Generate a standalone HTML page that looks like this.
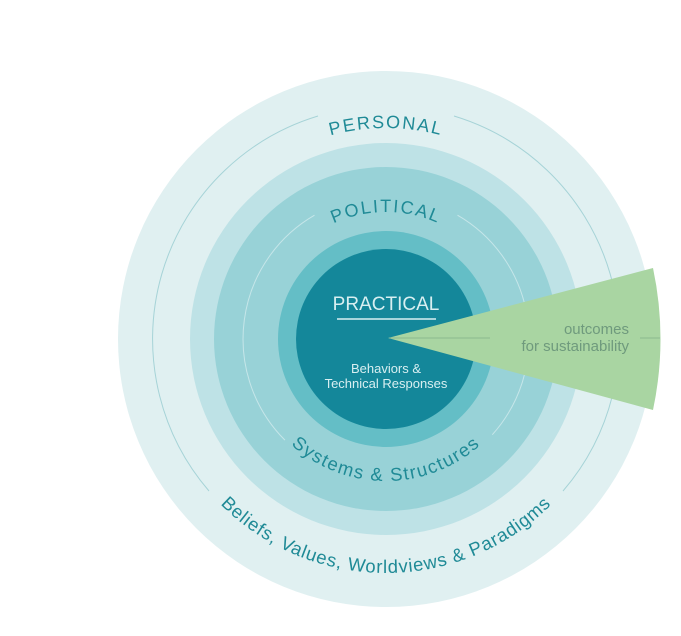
<!DOCTYPE html>
<html><head><meta charset="utf-8"><style>html,body{margin:0;padding:0;background:#fff}svg{display:block}</style></head><body>
<svg width="681" height="636" viewBox="0 0 681 636" xmlns="http://www.w3.org/2000/svg" font-family="Liberation Sans, sans-serif">
<defs>
<path id="pTop1" d="M175,339 A211,211 0 0 1 597,339"/>
<path id="pTop2" d="M259,339 A127,127 0 0 1 513,339"/>
<path id="pBot1" d="M244,339 A142,142 0 0 0 528,339"/>
<path id="pBot2" d="M152,339 A234,234 0 0 0 620,339"/>
</defs>
<circle cx="386" cy="339" r="268" fill="#e0f0f1"/>
<circle cx="386" cy="339" r="196" fill="#bee2e6"/>
<circle cx="386" cy="339" r="172" fill="#98d2d7"/>
<circle cx="386" cy="339" r="108" fill="#64bec6"/>
<circle cx="386" cy="339" r="90" fill="#14879a"/>
<g fill="none" stroke-width="1">
<path d="M318,116 A233,233 0 0 0 209,491" stroke="#a6d3d7"/>
<path d="M454,116 A233,233 0 0 1 563,491" stroke="#a6d3d7"/>
<path d="M314.5,215.2 A143,143 0 0 0 284.9,440.1" stroke="#c6e6e9"/>
<path d="M457.5,215.2 A143,143 0 0 1 492.3,434.7" stroke="#c6e6e9"/>
</g>
<path d="M388,338 L653,268 Q668,339 653,410 Z" fill="#a9d5a2"/>
<line x1="390" y1="338" x2="490" y2="338" stroke="#8cb98e" stroke-width="1"/>
<line x1="640" y1="338" x2="660" y2="338" stroke="#8cb98e" stroke-width="1"/>
<g fill="#1f8a96" font-size="18" letter-spacing="1.8">
<text><textPath href="#pTop1" startOffset="50%" text-anchor="middle">PERSONAL</textPath></text>
<text><textPath href="#pTop2" startOffset="50%" text-anchor="middle">POLITICAL</textPath></text>
<text font-size="18.5" letter-spacing="1.5"><textPath href="#pBot1" startOffset="50%" text-anchor="middle">Systems &amp; Structures</textPath></text>
<text font-size="18.5" letter-spacing="0.8"><textPath href="#pBot2" startOffset="50%" text-anchor="middle">Beliefs, Values, Worldviews &amp; Paradigms</textPath></text>
</g>
<text x="386" y="310" text-anchor="middle" fill="#d8eff1" font-size="19">PRACTICAL</text>
<line x1="337" y1="319" x2="436" y2="319" stroke="#d8eff1" stroke-width="1.5"/>
<text x="386" y="373" text-anchor="middle" fill="#d8eff1" font-size="13">Behaviors &amp;</text>
<text x="386" y="388" text-anchor="middle" fill="#d8eff1" font-size="13">Technical Responses</text>
<text x="629" y="334" text-anchor="end" fill="#6f9a7d" font-size="15">outcomes</text>
<text x="629" y="351" text-anchor="end" fill="#6f9a7d" font-size="15">for sustainability</text>
</svg>
</body></html>
